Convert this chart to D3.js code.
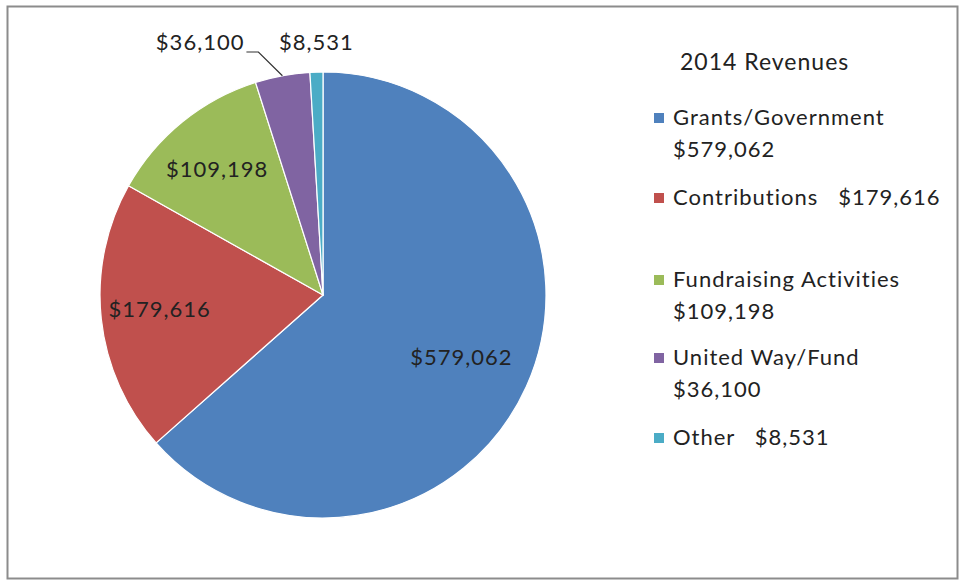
<!DOCTYPE html>
<html>
<head>
<meta charset="utf-8">
<script src="https://cdn.jsdelivr.net/npm/d3@7"></script>
<style>
  body { margin: 0; background: #fff; }
  svg text { font-family: Lato, "Open Sans", sans-serif; fill: #222; letter-spacing: 1px; }
</style>
</head>
<body>
<svg id="chart" width="960" height="580"></svg>
<script>
var categories = ["Grants/Government", "Contributions", "Fundraising Activities", "United Way/Fund", "Other"];
var values = [579062, 179616, 109198, 36100, 8531];
var colors = ["#4F81BD", "#C0504D", "#9BBB59", "#8064A2", "#4BACC6"];
var title = "2014 Revenues";

var data = categories.map(function (c, i) { return {key: c, value: values[i]}; });

var svg = d3.select("#chart"),
	width = +svg.attr("width"),
	height = +svg.attr("height");

// frame
svg.append("rect")
	.attr("x", 7.5).attr("y", 6.5)
	.attr("width", width - 10).attr("height", height - 8)
	.attr("fill", "#fff")
	.attr("stroke", "#8c8c8c")
	.attr("stroke-width", 2);

var cx = 323, cy = 295, radius = 223;
var fmt = function (v) { return "$" + d3.format(",")(v); };
var fontSize = "22px";

var color = d3.scaleOrdinal().domain(categories).range(colors);

var pie = d3.pie().sort(null).value(function (d) { return d.value; });
var arcs = pie(data);
var total = d3.sum(values);

var arc = d3.arc().innerRadius(0).outerRadius(radius);
var labelArc = d3.arc().innerRadius(radius * 0.71).outerRadius(radius * 0.71);
var edgeArc = d3.arc().innerRadius(radius).outerRadius(radius);

var g = svg.append("g").attr("transform", "translate(" + cx + "," + cy + ")");

g.selectAll(".slice")
	.data(arcs)
	.enter()
	.append("path")
	.attr("class", "slice")
	.attr("d", arc)
	.attr("fill", function (d) { return color(d.data.key); })
	.attr("stroke", "#fff")
	.attr("stroke-width", 1.2);

// inside labels for big slices
g.selectAll(".inlabel")
	.data(arcs.filter(function (d) { return d.value / total > 0.05; }))
	.enter()
	.append("text")
	.attr("class", "inlabel")
	.attr("transform", function (d) {
		var c = labelArc.centroid(d);
		return "translate(" + (c[0] - 6) + "," + (c[1] - 3) + ")";
	})
	.attr("text-anchor", "middle")
	.attr("dy", "0.35em")
	.style("font-size", fontSize)
	.text(function (d) { return fmt(d.value); });

// outside labels for small slices
var small = arcs.filter(function (d) { return d.value / total <= 0.05; });
var labelY = -radius - 22;
small.forEach(function (d) {
	var p = edgeArc.centroid(d);
	if (d.data.key === "United Way/Fund") {
		var p1 = [p[0] - 24, labelY + 2];
		var p2 = [p1[0] - 12, labelY + 2];
		g.append("polyline")
			.attr("points", [p, p1, p2].map(function (q) { return q.join(","); }).join(" "))
			.attr("fill", "none")
			.attr("stroke", "#333")
			.attr("stroke-width", 1.2);
		g.append("text")
			.attr("x", p2[0] - 2)
			.attr("y", labelY)
			.attr("text-anchor", "end")
			.style("font-size", fontSize)
			.text(fmt(d.value));
	} else {
		g.append("text")
			.attr("x", p[0])
			.attr("y", labelY)
			.attr("text-anchor", "middle")
			.style("font-size", fontSize)
			.text(fmt(d.value));
	}
});

// title + legend
svg.append("text")
	.attr("x", 680).attr("y", 70)
	.style("font-size", "23px")
	.text(title);

var legendRows = [
	{lines: [categories[0], fmt(values[0])], y: 125},
	{lines: [categories[1] + "   " + fmt(values[1])], y: 205},
	{lines: [categories[2], fmt(values[2])], y: 287},
	{lines: [categories[3], fmt(values[3])], y: 365},
	{lines: [categories[4] + "   " + fmt(values[4])], y: 445}
];

var leg = svg.selectAll(".legend")
	.data(legendRows)
	.enter()
	.append("g")
	.attr("class", "legend");

leg.append("rect")
	.attr("x", 654)
	.attr("y", function (d) { return d.y - 12; })
	.attr("width", 10).attr("height", 10)
	.attr("fill", function (d, i) { return colors[i]; });

leg.append("text")
	.attr("x", 673)
	.attr("y", function (d) { return d.y; })
	.style("font-size", fontSize)
	.style("white-space", "pre")
	.attr("xml:space", "preserve")
	.selectAll("tspan")
	.data(function (d) { return d.lines; })
	.enter()
	.append("tspan")
	.attr("x", 673)
	.attr("dy", function (d, i) { return i === 0 ? 0 : 32; })
	.text(function (d) { return d; });
</script>
</body>
</html>
